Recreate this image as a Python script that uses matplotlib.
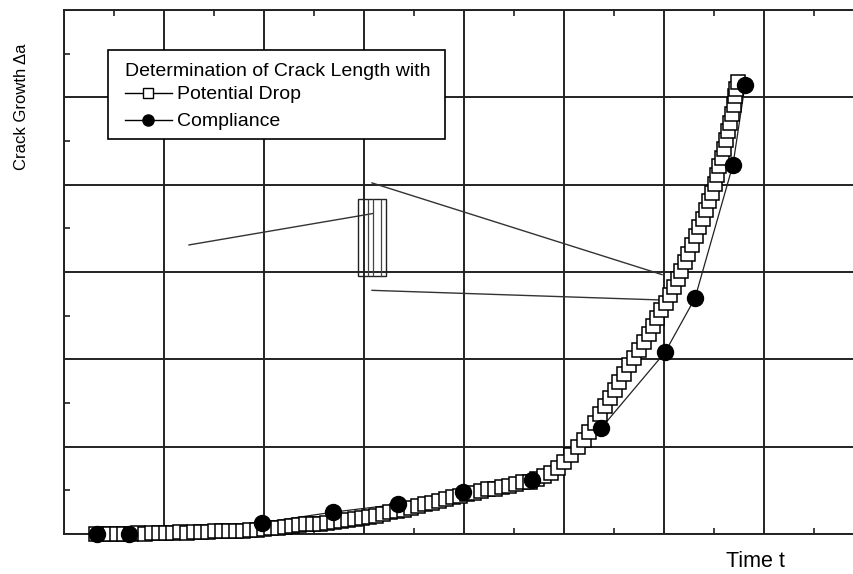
import numpy as np
import matplotlib.pyplot as plt
from matplotlib.patches import Rectangle

plt.rcParams['font.family'] = ['Liberation Sans', 'DejaVu Sans']

# crack growth from potential drop (time and growth in grid units)
pd_time = [0.32, 0.39, 0.46, 0.53, 0.60, 0.67, 0.74, 0.81, 0.88, 0.95,
           1.02, 1.09, 1.16, 1.23, 1.30, 1.37, 1.44, 1.51, 1.58, 1.65,
           1.72, 1.79, 1.86, 1.93, 2.00, 2.07, 2.14, 2.21, 2.28, 2.35,
           2.42, 2.49, 2.56, 2.63, 2.70, 2.77, 2.84, 2.91, 2.98, 3.05,
           3.12, 3.19, 3.26, 3.33, 3.40, 3.47, 3.54, 3.61, 3.68, 3.75,
           3.82, 3.89, 3.96, 4.03, 4.10, 4.17, 4.24, 4.31, 4.38, 4.45,
           4.52, 4.59, 4.66, 4.73, 4.80, 4.87, 4.94,
           5.00, 5.07, 5.14, 5.20, 5.25, 5.31, 5.36, 5.41, 5.46, 5.51,
           5.55, 5.60, 5.65, 5.70, 5.75, 5.80, 5.85, 5.89, 5.93, 5.97,
           6.02, 6.06, 6.10, 6.14, 6.17, 6.21, 6.24, 6.28, 6.32, 6.35,
           6.39, 6.42, 6.45, 6.48, 6.51, 6.53, 6.55, 6.58, 6.60, 6.62,
           6.64, 6.66, 6.68, 6.70, 6.71, 6.72, 6.74]
pd_growth = [0.00, 0.00, 0.00, 0.00, 0.00, 0.00, 0.01, 0.00, 0.01, 0.01,
             0.01, 0.01, 0.02, 0.01, 0.02, 0.02, 0.02, 0.03, 0.03, 0.03,
             0.04, 0.04, 0.05, 0.05, 0.06, 0.07, 0.07, 0.08, 0.09, 0.10,
             0.11, 0.12, 0.12, 0.13, 0.14, 0.15, 0.16, 0.17, 0.18, 0.20,
             0.21, 0.23, 0.25, 0.26, 0.28, 0.30, 0.32, 0.34, 0.36, 0.38,
             0.40, 0.42, 0.44, 0.46, 0.47, 0.49, 0.51, 0.52, 0.54, 0.55,
             0.57, 0.59, 0.60, 0.63, 0.66, 0.70, 0.76,
             0.82, 0.91, 1.00, 1.08, 1.17, 1.27, 1.37, 1.47, 1.56, 1.65,
             1.74, 1.83, 1.93, 2.02, 2.11, 2.20, 2.29, 2.38, 2.47, 2.56,
             2.65, 2.74, 2.83, 2.92, 3.01, 3.11, 3.21, 3.31, 3.41, 3.51,
             3.61, 3.71, 3.81, 3.91, 4.01, 4.11, 4.21, 4.31, 4.41, 4.51,
             4.61, 4.71, 4.81, 4.91, 5.01, 5.10, 5.18]

# crack growth from compliance
comp_time = [0.33, 0.65, 1.98, 2.69, 3.34, 3.99, 4.68, 5.37, 6.01, 6.31, 6.69, 6.81]
comp_growth = [0.00, 0.00, 0.13, 0.25, 0.34, 0.48, 0.62, 1.21, 2.08, 2.70, 4.23, 5.14]

# magnified detail box with its leader lines
box_x = [2.94, 3.22]
box_y = [2.95, 3.84]
box_stripes = [3.04, 3.09, 3.17]
leaders = [([1.25, 2.99, 3.09], [3.31, 3.65, 3.67]),
           ([3.08, 5.98], [4.02, 2.97]),
           ([3.08, 5.96], [2.79, 2.68])]

ink = '#222222'

fig = plt.figure(figsize=(8.54, 5.74), dpi=100)
ax = fig.add_axes([64 / 854, 40 / 574, 800 / 854, 524 / 574])

ax.plot(comp_time, comp_growth, '-', color=ink, lw=0.9, zorder=3)
ax.plot(pd_time, pd_growth, 's', ms=9.5, mfc='white', mec='black', mew=1.1,
        clip_on=False, zorder=4)
ax.plot(comp_time, comp_growth, 'o', ms=11.5, color='black', lw=0,
        clip_on=False, zorder=5)

for xs, ys in leaders:
    ax.plot(xs, ys, '-', color='#333333', lw=1.0, zorder=2)
ax.add_patch(Rectangle((box_x[0], box_y[0]), box_x[1] - box_x[0], box_y[1] - box_y[0],
                       fill=False, ec=ink, lw=1.0, zorder=2))
ax.vlines(box_stripes, box_y[0], box_y[1], color='#444444', lw=0.9, zorder=2)

ax.set_xlim(0, 8)
ax.set_ylim(0, 6)
ax.set_xticks(np.arange(0, 9))
ax.set_yticks(np.arange(0, 7))
ax.set_xticks(np.arange(0.5, 8, 1), minor=True)
ax.set_yticks(np.arange(0.5, 6, 1), minor=True)
ax.tick_params(which='both', direction='in', top=True, right=True,
               labelbottom=False, labelleft=False, color=ink)
ax.tick_params(which='major', length=0)
ax.tick_params(which='minor', length=4, width=1.2)
ax.grid(True, which='major', color=ink, lw=1.4)
for s in ax.spines.values():
    s.set_linewidth(1.4)
    s.set_color(ink)

ax.text(-0.0525, 0.815, 'Crack Growth \u0394a', transform=ax.transAxes,
        rotation=90, ha='center', va='center', fontsize=12)
ax.text(0.864, -0.052, 'Time t', transform=ax.transAxes,
        ha='center', va='center', fontsize=15.5)

# legend box drawn by hand in axes fractions
tr = ax.transAxes
ax.add_patch(Rectangle((0.055, 0.754), 0.421, 0.170, transform=tr,
                       facecolor='white', edgecolor='black', lw=1.2, zorder=10))
ax.text(0.076, 0.874, 'Determination of Crack Length with', transform=tr,
        fontsize=14, va='baseline', ha='left', zorder=11)
ax.plot([0.076, 0.135], [0.8416, 0.8416], '-', color='black', lw=1, transform=tr, zorder=11)
ax.plot([0.105], [0.8416], 's', ms=7, mfc='white', mec='black', mew=1,
        transform=tr, zorder=12)
ax.text(0.141, 0.830, 'Potential Drop', transform=tr,
        fontsize=14, va='baseline', ha='left', zorder=11)
ax.plot([0.076, 0.135], [0.790, 0.790], '-', color='black', lw=1, transform=tr, zorder=11)
ax.plot([0.105], [0.790], 'o', ms=8, color='black', transform=tr, zorder=12)
ax.text(0.141, 0.7786, 'Compliance', transform=tr,
        fontsize=14, va='baseline', ha='left', zorder=11)

fig.savefig('out.png', dpi=100)
